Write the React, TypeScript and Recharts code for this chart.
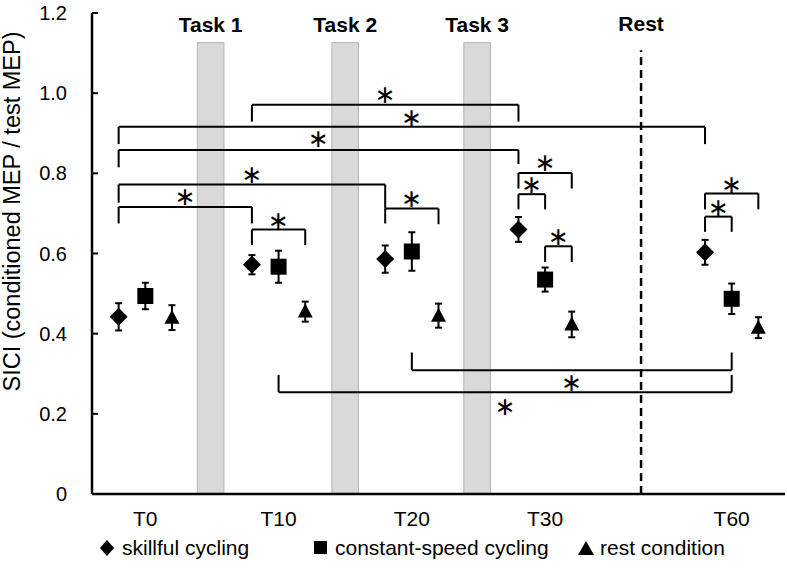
import React from 'react';
import {
  ComposedChart,
  Scatter,
  ErrorBar,
  XAxis,
  YAxis,
  ReferenceArea,
  ReferenceLine,
  ReferenceDot,
  Legend,
} from 'recharts';

// time points and where they sit on the x scale (T60 is spaced further out)
const categories = ['T0', 'T10', 'T20', 'T30', 'T60'];
const categoryPos = [0, 1, 2, 3, 4.4];

const skillful = [0.442, 0.572, 0.586, 0.66, 0.603];
const skillfulErr = [0.034, 0.024, 0.034, 0.031, 0.031];
const constantSpeed = [0.494, 0.567, 0.605, 0.535, 0.487];
const constantSpeedErr = [0.033, 0.04, 0.048, 0.03, 0.038];
const restCond = [0.44, 0.455, 0.445, 0.423, 0.415];
const restCondErr = [0.031, 0.025, 0.03, 0.032, 0.026];

const yTicks = [0, 0.2, 0.4, 0.6, 0.8, 1.0, 1.2];

// grey task periods and the rest marker, in x-axis units
const taskBands = [
  { label: 'Task 1', x1: 0.39, x2: 0.59 },
  { label: 'Task 2', x1: 1.4, x2: 1.6 },
  { label: 'Task 3', x1: 2.39, x2: 2.59 },
];
const restAt = 3.72;

// significance brackets: [category, series] -> [category, series]
const brackets = [
  { from: [1, 0], to: [3, 0], y: 0.971, endL: 0.929, endR: 0.929, star: 0.997 },
  { from: [0, 0], to: [4, 0], y: 0.916, endL: 0.873, endR: 0.873, star: 0.94 },
  { from: [0, 0], to: [3, 0], y: 0.858, endL: 0.815, endR: 0.823, star: 0.888 },
  { from: [0, 0], to: [2, 0], y: 0.772, endL: 0.727, endR: 0.712, star: 0.796 },
  { from: [0, 0], to: [1, 0], y: 0.716, endL: 0.675, endR: 0.675, star: 0.741 },
  { from: [1, 0], to: [1, 2], y: 0.66, endL: 0.621, endR: 0.621, star: 0.683 },
  { from: [2, 0], to: [2, 2], y: 0.712, endL: 0.675, endR: 0.673, star: 0.737 },
  { from: [3, 0], to: [3, 2], y: 0.801, endL: 0.762, endR: 0.762, star: 0.827 },
  { from: [3, 0], to: [3, 1], y: 0.748, endL: 0.71, endR: 0.71, star: 0.772 },
  { from: [3, 1], to: [3, 2], y: 0.618, endL: 0.579, endR: 0.579, star: 0.642 },
  { from: [4, 0], to: [4, 2], y: 0.75, endL: 0.71, endR: 0.71, star: 0.772 },
  { from: [4, 0], to: [4, 1], y: 0.692, endL: 0.654, endR: 0.654, star: 0.714 },
  { from: [2, 1], to: [4, 1], y: 0.309, endL: 0.353, endR: 0.353, star: 0.279 },
  { from: [1, 1], to: [4, 1], y: 0.254, endL: 0.297, endR: 0.297, star: 0.219 },
];

const seriesOffset = [-0.2, 0, 0.2];
const FONT = '"Liberation Sans", Arial, sans-serif';

const xOf = (cat: number, series: number) => categoryPos[cat] + seriesOffset[series];

const toPoints = (vals: number[], errs: number[], series: number) =>
  vals.map((v, i) => ({ x: xOf(i, series), y: v, err: errs[i] }));

const Diamond = ({ cx, cy }: any) => (
  <polygon points={`${cx},${cy - 9} ${cx + 9},${cy} ${cx},${cy + 9} ${cx - 9},${cy}`} fill="#000" />
);
const Square = ({ cx, cy }: any) => <rect x={cx - 8} y={cy - 8} width={16} height={16} fill="#000" />;
const Triangle = ({ cx, cy }: any) => (
  <polygon points={`${cx},${cy - 8} ${cx + 7.5},${cy + 6} ${cx - 7.5},${cy + 6}`} fill="#000" />
);

const Star = ({ cx, cy }: any) => (
  <text x={cx} y={cy} textAnchor="middle" dominantBaseline="central" fontSize={25} fontFamily="DejaVu Sans">
    ∗
  </text>
);

const LegendContent = () => {
  const items = [
    { left: 100, label: 'skillful cycling', icon: <polygon points="7,0 14,8 7,16 0,8" /> },
    { left: 313, label: 'constant-speed cycling', icon: <rect x={1} y={1} width={13} height={13} /> },
    { left: 578, label: 'rest condition', icon: <polygon points="8,1 16,15 0,15" /> },
  ];
  return (
    <div style={{ position: 'relative', height: 30, fontFamily: FONT, fontSize: 21, color: '#000' }}>
      {items.map((it) => (
        <div
          key={it.label}
          style={{ position: 'absolute', left: it.left, top: -9, display: 'flex', alignItems: 'center', height: 30, whiteSpace: 'nowrap' }}
        >
          <svg width={16} height={16} style={{ marginRight: 6 }}>
            <g fill="#000">{it.icon}</g>
          </svg>
          <span>{it.label}</span>
        </div>
      ))}
    </div>
  );
};

export default function App() {
  const sets = [
    { name: 'skillful cycling', data: toPoints(skillful, skillfulErr, 0), shape: Diamond },
    { name: 'constant-speed cycling', data: toPoints(constantSpeed, constantSpeedErr, 1), shape: Square },
    { name: 'rest condition', data: toPoints(restCond, restCondErr, 2), shape: Triangle },
  ];

  return (
    <div style={{ position: 'absolute', left: 0, top: 0, width: 787, height: 572, background: '#fff' }}>
      <ComposedChart width={787} height={572} margin={{ top: 13, right: 2, bottom: 0, left: 0 }}>
        <XAxis
          type="number"
          dataKey="x"
          domain={[-0.4, 4.8]}
          ticks={categoryPos}
          tickFormatter={(v: number) => categories[categoryPos.indexOf(v)] ?? ''}
          axisLine={{ stroke: '#000', strokeWidth: 2.5 }}
          tickLine={false}
          tickSize={0}
          tickMargin={17}
          height={48}
          tick={{ fill: '#000', fontSize: 21, fontFamily: FONT }}
        />
        <YAxis
          type="number"
          dataKey="y"
          domain={[0, 1.2]}
          ticks={yTicks}
          tickFormatter={(v: number) => (v === 0 ? '0' : v.toFixed(1))}
          width={92}
          axisLine={{ stroke: '#000', strokeWidth: 2.5 }}
          tickLine={{ stroke: '#000', strokeWidth: 2 }}
          tickSize={-6}
          tickMargin={31}
          tick={{ fill: '#000', fontSize: 20, fontFamily: FONT }}
          label={{
            value: 'SICI (conditioned MEP / test MEP)',
            angle: -90,
            position: 'insideLeft',
            offset: 12,
            dy: -42,
            style: { textAnchor: 'middle', fill: '#000', fontSize: 23.5, fontFamily: FONT },
          }}
        />
        <Legend verticalAlign="bottom" content={<LegendContent />} wrapperStyle={{ left: 0, width: 787 }} />

        {taskBands.map((b) => (
          <ReferenceArea
            key={b.label}
            x1={b.x1}
            x2={b.x2}
            y1={0}
            y2={1.126}
            fill="#d9d9d9"
            fillOpacity={1}
            stroke="#b4b4b4"
            strokeWidth={1}
            ifOverflow="visible"
            label={{ value: b.label, position: 'top', offset: 11, fill: '#000', fontSize: 21, fontWeight: 'bold', fontFamily: FONT }}
          />
        ))}
        <ReferenceLine
          segment={[{ x: restAt, y: 0 }, { x: restAt, y: 1.107 }]}
          stroke="#000"
          strokeWidth={2.5}
          strokeDasharray="8 5"
          ifOverflow="visible"
          label={{ value: 'Rest', position: 'top', offset: 19, fill: '#000', fontSize: 21, fontWeight: 'bold', fontFamily: FONT }}
        />

        {brackets.map((b, i) => {
          const xa = xOf(b.from[0], b.from[1]);
          const xb = xOf(b.to[0], b.to[1]);
          const line = { stroke: '#000', strokeWidth: 2, ifOverflow: 'visible' as const };
          return (
            <React.Fragment key={`br-${i}`}>
              <ReferenceLine segment={[{ x: xa, y: b.endL }, { x: xa, y: b.y }]} {...line} />
              <ReferenceLine segment={[{ x: xa, y: b.y }, { x: xb, y: b.y }]} {...line} />
              <ReferenceLine segment={[{ x: xb, y: b.y }, { x: xb, y: b.endR }]} {...line} />
              <ReferenceDot x={(xa + xb) / 2} y={b.star} r={0} ifOverflow="visible" shape={Star} />
            </React.Fragment>
          );
        })}

        {sets.map((s) => (
          <Scatter key={s.name} name={s.name} data={s.data} dataKey="y" shape={s.shape} isAnimationActive={false}>
            <ErrorBar dataKey="err" direction="y" width={3.5} stroke="#000" strokeWidth={2} />
          </Scatter>
        ))}
      </ComposedChart>
    </div>
  );
}
